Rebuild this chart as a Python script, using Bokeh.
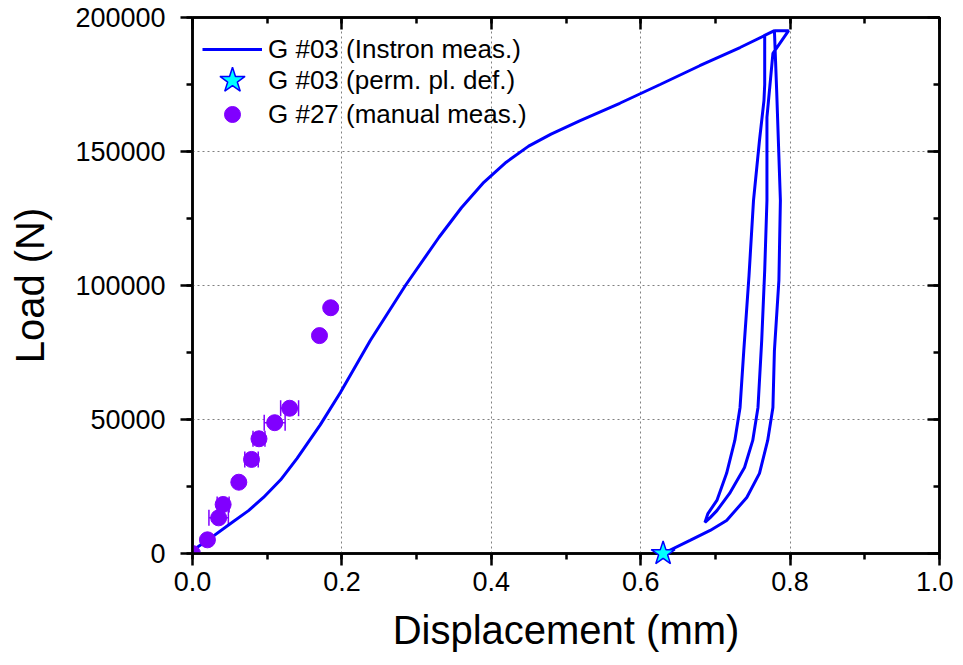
from bokeh.plotting import figure
from bokeh.models import (LinearAxis, Range1d, Whisker, ColumnDataSource, Legend,
                          LegendItem, SingleIntervalTicker, PrintfTickFormatter,
                          CustomJSTickFormatter)
from bokeh.embed import file_html
from bokeh.resources import INLINE

# ---- G #03 Instron measurement (displacement mm, load N) ----
# initial loading envelope
loading_x = [0.0, 0.004, 0.020, 0.051, 0.075, 0.095, 0.118, 0.140, 0.171, 0.198, 0.238, 0.285,
             0.330, 0.360, 0.390, 0.420, 0.450, 0.480, 0.519, 0.572, 0.626, 0.679, 0.733, 0.766, 0.779]
loading_y = [0, 1900, 4900, 11200, 16000, 20900, 27500, 35500, 48000, 60100, 79500, 100000,
             118000, 129000, 138500, 146000, 152000, 156500, 161500, 168000, 175000, 182000, 188800, 193300, 195100]
# first unloading
unload1_x = [0.766, 0.766, 0.765, 0.759, 0.751, 0.745, 0.738, 0.733, 0.726, 0.715, 0.702, 0.690, 0.686]
unload1_y = [193300, 175000, 169000, 154100, 131700, 103700, 75700, 54500, 42200, 29900, 19800, 14900, 11600]
# reloading
reload_x = [0.693, 0.702, 0.719, 0.739, 0.750, 0.757, 0.762, 0.766, 0.769, 0.769, 0.777, 0.798]
reload_y = [13400, 16000, 22400, 32100, 42200, 54500, 79500, 105600, 131700, 162700, 186600, 195100]
# final unloading
unload2_x = [0.779, 0.782, 0.787, 0.785, 0.779, 0.777, 0.770, 0.759, 0.742, 0.715, 0.693, 0.666, 0.630]
unload2_y = [195100, 172800, 131700, 101900, 75700, 54500, 42200, 29900, 20900, 12300, 8600, 4900, 0]

# ---- G #03 permanent plastic deformation ----
perm_x = [0.630]
perm_y = [0]

# ---- G #27 manual measurement ----
man_x = [0.0, 0.020, 0.035, 0.041, 0.062, 0.079, 0.089, 0.110, 0.130, 0.170, 0.185]
man_y = [0, 5100, 13300, 18300, 26600, 35100, 42800, 48800, 54200, 81300, 91700]
man_xerr = [0, 0, 0.013, 0.008, 0, 0.009, 0.008, 0.014, 0.012, 0, 0]

FONT = "Liberation Sans"
BLUE = "#0000FF"
PURPLE = "#8000FF"

p = figure(width=953, height=665, x_range=Range1d(0, 1.0), y_range=Range1d(0, 200000),
           output_backend="svg", toolbar_location=None,
           min_border_left=192, min_border_right=14, min_border_top=17, min_border_bottom=112)
p.background_fill_color = "white"
p.border_fill_color = "white"
p.outline_line_color = "black"
p.outline_line_width = 2.5

xt = SingleIntervalTicker(interval=0.2, num_minor_ticks=2)
yt = SingleIntervalTicker(interval=50000, num_minor_ticks=2)
p.xaxis.ticker = xt
p.yaxis.ticker = yt
p.xaxis.formatter = PrintfTickFormatter(format="%.1f")
p.yaxis.formatter = PrintfTickFormatter(format="%d")

for ax in (p.xaxis[0], p.yaxis[0]):
    ax.axis_line_width = 2.5
    ax.axis_line_color = "black"
    ax.major_tick_line_width = 2.5
    ax.minor_tick_line_width = 2.5
    ax.major_tick_out = 12
    ax.major_tick_in = 0
    ax.minor_tick_out = 6
    ax.minor_tick_in = 0
    ax.major_label_text_font = FONT
    ax.major_label_text_font_size = "27px"
    ax.major_label_text_color = "black"
    ax.axis_label_text_font = FONT
    ax.axis_label_text_font_size = "40px"
    ax.axis_label_text_font_style = "normal"
    ax.axis_label_text_color = "black"

p.xaxis.axis_label = "Displacement (mm)"
p.yaxis.axis_label = "Load (N)"
p.xaxis.major_label_standoff = 6
p.xaxis.axis_label_standoff = 14
p.yaxis.major_label_standoff = 15
p.yaxis.axis_label_standoff = 20

top_ax = LinearAxis(ticker=xt, formatter=CustomJSTickFormatter(code="return ''"),
                    major_label_standoff=0,
                    major_tick_in=12, major_tick_out=0, minor_tick_in=6, minor_tick_out=0,
                    axis_line_width=2.5, major_tick_line_width=2.5, minor_tick_line_width=2.5)
right_ax = LinearAxis(ticker=yt, formatter=CustomJSTickFormatter(code="return ''"),
                      major_label_standoff=0,
                      major_tick_in=12, major_tick_out=0, minor_tick_in=6, minor_tick_out=0,
                      axis_line_width=2.5, major_tick_line_width=2.5, minor_tick_line_width=2.5)
p.add_layout(top_ax, "above")
p.add_layout(right_ax, "right")

for g in (p.xgrid[0], p.ygrid[0]):
    g.grid_line_color = "#808080"
    g.grid_line_dash = "2 3"
    g.grid_line_width = 1

# Instron curve: load -> back to envelope point -> unload -> reload -> hold -> final unload
inst_x = loading_x + unload1_x + reload_x + unload2_x
inst_y = loading_y + unload1_y + reload_y + unload2_y
line_r = p.line(inst_x, inst_y, line_color=BLUE, line_width=3)

# manual measurement error bars
eb_idx = [i for i, e in enumerate(man_xerr) if e > 0]
eb_src = ColumnDataSource(dict(
    y=[man_y[i] for i in eb_idx],
    lower=[man_x[i] - man_xerr[i] for i in eb_idx],
    upper=[man_x[i] + man_xerr[i] for i in eb_idx]))
wh = Whisker(source=eb_src, base="y", lower="lower", upper="upper", dimension="width",
             line_color=PURPLE, line_width=1.5)
for head in (wh.upper_head, wh.lower_head):
    head.size = 16
    head.line_color = PURPLE
    head.line_width = 1.5
p.add_layout(wh)

man_r = p.scatter(man_x, man_y, marker="circle", size=16, fill_color=PURPLE, line_color=PURPLE)
star_r = p.scatter(perm_x, perm_y, marker="star", size=25, fill_color="#00FFFF",
                   line_color=BLUE, line_width=1.5, level="overlay")


def make_legend(label, renderer, gw, gh, x, y, standoff):
    lg = Legend(items=[LegendItem(label=label, renderers=[renderer])], location=(x, y))
    lg.background_fill_alpha = 0
    lg.border_line_alpha = 0
    lg.padding = 0
    lg.margin = 0
    lg.glyph_width = gw
    lg.glyph_height = gh
    lg.label_height = gh
    lg.label_standoff = standoff
    lg.label_text_font = FONT
    lg.label_text_font_size = "26px"
    lg.label_text_color = "black"
    return lg


# frame height is 536 px; legend y is the offset of its bottom edge from the frame bottom
p.add_layout(make_legend("G #03 (Instron meas.)", line_r, 60, 32, 10, 488, 6))
p.add_layout(make_legend("G #03 (perm. pl. def.)", star_r, 66, 66, 7, 440, 3))
p.add_layout(make_legend("G #27 (manual meas.)", man_r, 60, 40, 10, 419, 6))

open("out.html", "w").write(file_html(p, INLINE))
